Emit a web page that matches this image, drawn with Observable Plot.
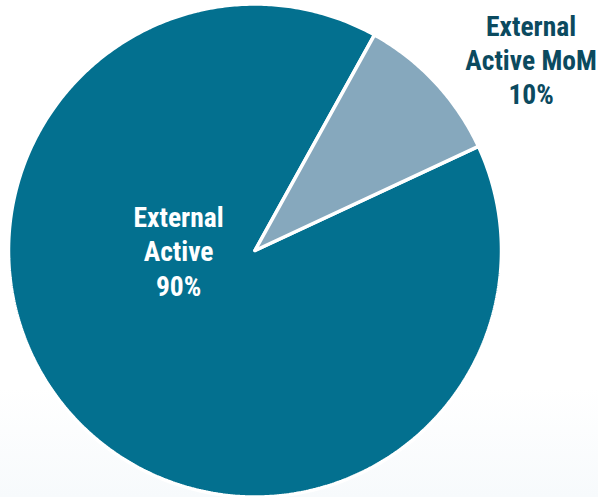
<!DOCTYPE html>
<html>
<head>
<meta charset="utf-8">
<script src="https://cdn.jsdelivr.net/npm/d3@7"></script>
<script src="https://cdn.jsdelivr.net/npm/@observablehq/plot@0.6"></script>
<style>
  html, body { margin: 0; padding: 0; }
  body {
    width: 598px; height: 497px; overflow: hidden;
    background: linear-gradient(to bottom, #ffffff 0%, #ffffff 78%, #f7fafc 100%);
  }
  #chart svg { display: block; background: transparent; }
</style>
</head>
<body>
<div id="chart"></div>
<script>
// Data
const categories = ["External Active", "External Active MoM"];
const shares = [90, 10];
const labels = ["External\nActive\n90%", "External\nActive MoM\n10%"];

const W = 598, H = 497;
const cx = 254.5, cy = 250, R = 246.5;
const startDeg = 65;

const pie = d3.pie().sort(null).value(d => d.value)
  .startAngle(startDeg * Math.PI / 180)
  .endAngle((startDeg + 360) * Math.PI / 180);
const rows = categories.map((c, i) => ({category: c, value: shares[i], label: labels[i]}));
const arcs = pie(rows);

// polygon points for each slice in unit-circle space
const pts = [];
arcs.forEach(a => {
  const n = Math.max(8, Math.ceil((a.endAngle - a.startAngle) / 0.01));
  pts.push({category: a.data.category, x: 0, y: 0});
  for (let k = 0; k <= n; k++) {
    const t = a.startAngle + (a.endAngle - a.startAngle) * k / n;
    pts.push({category: a.data.category, x: Math.sin(t), y: Math.cos(t)});
  }
  pts.push({category: a.data.category, x: 0, y: 0});
});

const labelPos = {
  "External Active": {x: -0.31, y: 0.0, fill: "#ffffff"},
  "External Active MoM": {x: 1.12, y: 0.775, fill: "#0b4a5f"}
};

const plot = Plot.plot({
  width: W, height: H,
  margin: 0,
  style: {background: "transparent", overflow: "visible"},
  x: {domain: [-cx / R, (W - cx) / R], range: [0, W], axis: null},
  y: {domain: [-(H - cy) / R, cy / R], range: [H, 0], axis: null},
  color: {domain: categories, range: ["#03708f", "#86a8bd"]},
  marks: [
    Plot.line(pts, {
      x: "x", y: "y", z: "category",
      fill: "category", stroke: "#ffffff", strokeWidth: 3.5,
      strokeLinejoin: "miter", curve: "linear"
    }),
    Plot.text(rows, {
      x: d => labelPos[d.category].x,
      y: d => labelPos[d.category].y,
      text: "label",
      fill: d => labelPos[d.category].fill,
      fontSize: 27.5, fontWeight: "bold",
      fontFamily: "'Liberation Sans Narrow', 'Arial Narrow', 'Roboto Condensed', Roboto, sans-serif",
      lineHeight: 1.24,
      textAnchor: "middle", lineAnchor: "middle"
    })
  ]
});
document.getElementById("chart").appendChild(plot);
</script>
</body>
</html>
